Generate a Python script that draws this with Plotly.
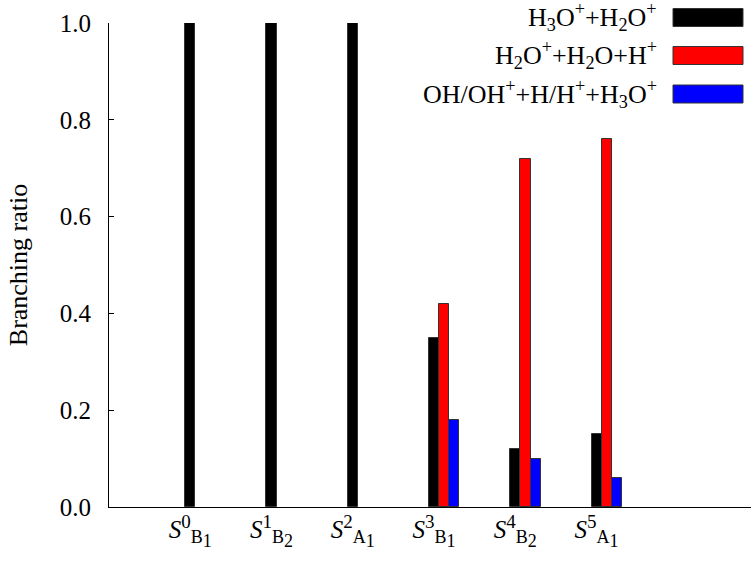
import plotly.graph_objects as go

# ---- data ----
categories = [0, 1, 2, 3, 4, 5]
state_nums = ["0", "1", "2", "3", "4", "5"]
state_syms = ["B", "B", "A", "B", "B", "A"]
state_idx = ["1", "2", "1", "1", "2", "1"]
h3o_h2o = [1.0, 1.0, 1.0, 0.35, 0.12, 0.15]
h2o_h2o_h = [0.0, 0.0, 0.0, 0.42, 0.72, 0.76]
oh_h_h3o = [0.0, 0.0, 0.0, 0.18, 0.10, 0.06]
y_ticks = [0, 0.2, 0.4, 0.6, 0.8, 1.0]
y_tick_labels = ["0.0", "0.2", "0.4", "0.6", "0.8", "1.0"]

series_names = [
    "H<sub>3</sub>O<sup>+</sup>+H<sub>2</sub>O<sup>+</sup>",
    "H<sub>2</sub>O<sup>+</sup>+H<sub>2</sub>O+H<sup>+</sup>",
    "OH/OH<sup>+</sup>+H/H<sup>+</sup>+H<sub>3</sub>O<sup>+</sup>",
]
series_values = [h3o_h2o, h2o_h2o_h, oh_h_h3o]
series_colors = ["#000000", "#ff0000", "#0000ff"]

FONT = "Liberation Serif"

tick_labels = [
    "<i>S</i><sup><span style='font-size:19px'>%s</span></sup>"
    "<sub><span style='font-size:18px'>%s<sub><span style='font-size:18px'>%s</span></sub></span></sub>"
    % (n, s, i)
    for n, s, i in zip(state_nums, state_syms, state_idx)
]

bar_w = 0.125
offsets = [-bar_w / 2, bar_w / 2, 3 * bar_w / 2]

fig = go.Figure()
for name, vals, col, off in zip(series_names, series_values, series_colors, offsets):
    fig.add_trace(go.Bar(
        x=categories, y=vals, name=name,
        width=bar_w, offset=off,
        marker=dict(color=col,
                    line=dict(color="#333333",
                              width=[1 if v > 0 else 0 for v in vals])),
        showlegend=False,
    ))

W, H = 751, 561
L, R, T, B = 109, 0, 23, 54
pw, ph = W - L - R, H - T - B

def px(x):
    return (x - L) / pw

def py(y):
    return (H - B - y) / ph

# manual legend: text right-aligned, swatch on the right (gnuplot style)
row_centers = [17.5, 55.5, 94.0]
for name, col, yc in zip(series_names, series_colors, row_centers):
    fig.add_annotation(
        x=px(659), y=py(yc), xref="paper", yref="paper",
        text=name, showarrow=False, xanchor="right", yanchor="middle",
        font=dict(family=FONT, size=26, color="black"),
    )
    fig.add_shape(
        type="rect", xref="paper", yref="paper",
        x0=px(673), x1=px(743), y0=py(yc + 9), y1=py(yc - 9),
        fillcolor=col, line=dict(color="#333333", width=1),
    )

fig.update_layout(
    width=W, height=H,
    margin=dict(l=L, r=R, t=T, b=B, autoexpand=False),
    plot_bgcolor="white", paper_bgcolor="white",
    font=dict(family=FONT, size=25, color="black"),
    barmode="overlay",
    bargap=0,
)
fig.update_xaxes(
    range=[-1, 6.9],
    tickmode="array", tickvals=categories, ticktext=tick_labels,
    showline=True, linecolor="black", linewidth=1,
    showgrid=False, zeroline=False, ticks="",
    tickfont=dict(family=FONT, size=25),
)
fig.update_yaxes(
    range=[0, 1.0], tickmode="array",
    tickvals=y_ticks, ticktext=y_tick_labels,
    showline=True, linecolor="black", linewidth=1,
    showgrid=False, zeroline=False,
    ticks="inside", ticklen=5, tickcolor="black",
    ticklabelstandoff=12,
    tickfont=dict(family=FONT, size=25),
    title=dict(text="Branching ratio", font=dict(family=FONT, size=26), standoff=24),
    automargin=False,
)

fig.write_html(
    "out.html",
    config={"displayModeBar": False},
    post_script="document.body.style.margin='0px';document.body.style.overflow='hidden';",
)
